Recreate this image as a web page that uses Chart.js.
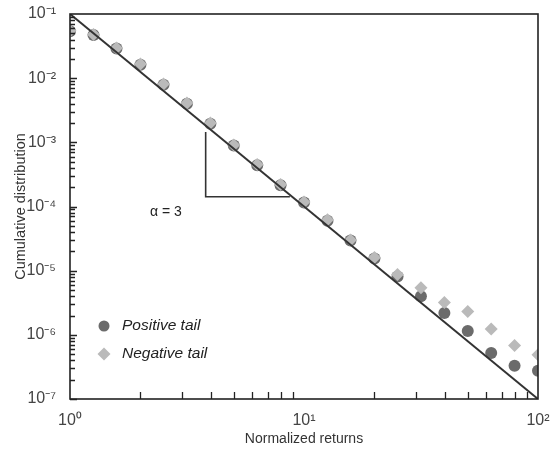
<!DOCTYPE html>
<html>
<head>
<meta charset="utf-8">
<script src="https://cdn.jsdelivr.net/npm/chart.js@4"></script>
<style>
  html, body { margin: 0; padding: 0; background: #fff; }
  #wrap { width: 550px; height: 455px; }
</style>
</head>
<body>
<div id="wrap"><canvas id="tails"></canvas></div>
<script>
// normalized returns (x): 10 points per decade
var returnsX = [1, 1.26, 1.58, 2.0, 2.51, 3.16, 3.98, 5.01, 6.31, 7.94, 10,
                12.6, 15.8, 20.0, 25.1, 31.6, 39.8, 50.1, 63.1, 79.4, 100];
// cumulative distribution, positive tail
var positiveTail = [0.054, 0.047, 0.029, 0.0162, 0.0079, 0.0040, 0.00195, 0.00089, 0.00044, 0.000214, 0.000115,
                    6.0e-5, 2.95e-5, 1.55e-5, 8.1e-6, 4.0e-6, 2.19e-6, 1.15e-6, 5.2e-7, 3.3e-7, 2.75e-7];
// cumulative distribution, negative tail
var negativeTail = [0.055, 0.048, 0.0295, 0.0166, 0.0081, 0.0041, 0.0020, 0.00091, 0.00045, 0.00022, 0.000118,
                    6.2e-5, 3.0e-5, 1.6e-5, 8.7e-6, 5.4e-6, 3.2e-6, 2.3e-6, 1.23e-6, 6.8e-7, 4.9e-7];
// power law fit (alpha = 3), end points
var fitX = [1, 100];
var fitY = [0.1, 1e-7];
// slope triangle
var slopeX = [3.8, 3.8, 8.7];
var slopeY = [1.45e-3, 1.42e-4, 1.42e-4];
var slopeLabel = 'α = 3';
var labelAt = [2.57, 8.3e-5];

var xTickLabels = ['10⁰', '10¹', '10²'];
var yTickLabels = ['10⁻⁷', '10⁻⁶', '10⁻⁵', '10⁻⁴', '10⁻³', '10⁻²', '10⁻¹'];
var seriesNames = ['Positive tail', 'Negative tail'];

var darkGray = '#6b6b6b';
var lightGray = '#bababa';
var fontFam = '"Liberation Sans", Arial, sans-serif';

function pts(xs, ys) {
    return xs.map(function (x, i) { return { x: x, y: ys[i] }; });
}

// ticks inside the box, frame, legend and slope label
var decorPlugin = {
    id: 'decor',
    afterDatasetsDraw: function (chart) {
        var ctx = chart.ctx, a = chart.chartArea;
        var xs = chart.scales.x, ys = chart.scales.y;
        ctx.save();
        ctx.strokeStyle = '#222';
        ctx.lineWidth = 1.6;
        ctx.strokeRect(a.left, a.top, a.right - a.left, a.bottom - a.top);

        ctx.lineWidth = 1.3;
        ctx.beginPath();
        // x ticks, pointing up from the bottom axis
        for (var d = 0; d < 2; d++) {
            for (var m = 2; m <= 9; m++) {
                var px = Math.round(xs.getPixelForValue(m * Math.pow(10, d))) + 0.5;
                ctx.moveTo(px, a.bottom);
                ctx.lineTo(px, a.bottom - 7);
            }
        }
        // y ticks, pointing right from the left axis
        for (var e = -7; e < -1; e++) {
            for (var n = 1; n <= 9; n++) {
                var py = Math.round(ys.getPixelForValue(n * Math.pow(10, e))) + 0.5;
                ctx.moveTo(a.left, py);
                ctx.lineTo(a.left + (n === 1 ? 7 : 5), py);
            }
        }
        ctx.stroke();

        // slope label
        ctx.fillStyle = '#222';
        ctx.font = '14px ' + fontFam;
        ctx.textAlign = 'center';
        ctx.textBaseline = 'middle';
        ctx.fillText(slopeLabel, xs.getPixelForValue(labelAt[0]), ys.getPixelForValue(labelAt[1]));

        // legend inside the plot
        var lx = 104, ly = [326, 354];
        ctx.textAlign = 'left';
        ctx.font = 'italic 15.5px ' + fontFam;
        ctx.fillStyle = darkGray;
        ctx.beginPath();
        ctx.arc(lx, ly[0], 5.5, 0, Math.PI * 2);
        ctx.fill();
        ctx.fillStyle = lightGray;
        ctx.beginPath();
        ctx.moveTo(lx, ly[1] - 6.5);
        ctx.lineTo(lx + 6.5, ly[1]);
        ctx.lineTo(lx, ly[1] + 6.5);
        ctx.lineTo(lx - 6.5, ly[1]);
        ctx.closePath();
        ctx.fill();
        ctx.fillStyle = '#222';
        ctx.fillText(seriesNames[0], lx + 18, ly[0]);
        ctx.fillText(seriesNames[1], lx + 18, ly[1]);
        ctx.restore();
    }
};

var ctx = document.getElementById('tails').getContext('2d');
var chart = new Chart(ctx, {
    type: 'scatter',
    data: {
        datasets: [{
            label: 'fit',
            data: pts(fitX, fitY),
            showLine: true,
            borderColor: '#333',
            borderWidth: 2,
            pointRadius: 0,
            order: 0
        }, {
            label: 'slope',
            data: pts(slopeX, slopeY),
            showLine: true,
            borderColor: '#333',
            borderWidth: 1.6,
            pointRadius: 0,
            order: 0
        }, {
            label: seriesNames[1],
            data: pts(returnsX, negativeTail),
            pointStyle: 'rectRot',
            pointRadius: 6.5,
            backgroundColor: lightGray,
            borderWidth: 0,
            order: 1
        }, {
            label: seriesNames[0],
            data: pts(returnsX, positiveTail),
            pointStyle: 'circle',
            pointRadius: 6,
            backgroundColor: darkGray,
            borderWidth: 0,
            order: 2
        }]
    },
    options: {
        responsive: true,
        maintainAspectRatio: false,
        animation: false,
        layout: { padding: { left: 0, right: 12, top: 14, bottom: 0 } },
        plugins: {
            legend: { display: false },
            tooltip: { enabled: false }
        },
        scales: {
            x: {
                type: 'logarithmic',
                min: 1,
                max: 100,
                grid: { display: false },
                border: { display: false },
                afterBuildTicks: function (s) {
                    s.ticks = [{ value: 1 }, { value: 10 }, { value: 100 }];
                },
                afterFit: function (s) {
                    s.height = 56;
                    s.paddingLeft = 0;
                    s.paddingRight = 0;
                },
                ticks: {
                    autoSkip: false,
                    maxRotation: 0,
                    padding: 4,
                    color: '#444',
                    font: { family: fontFam, size: 16 },
                    callback: function (v) {
                        return xTickLabels[Math.round(Math.log10(v))];
                    }
                },
                title: {
                    display: true,
                    text: 'Normalized returns',
                    color: '#333',
                    font: { family: fontFam, size: 14 },
                    padding: { top: 2, bottom: 7 }
                }
            },
            y: {
                type: 'logarithmic',
                min: 1e-7,
                max: 0.1,
                grid: { display: false },
                border: { display: false },
                afterBuildTicks: function (s) {
                    s.ticks = [1e-7, 1e-6, 1e-5, 1e-4, 1e-3, 1e-2, 1e-1].map(function (v) { return { value: v }; });
                },
                afterFit: function (s) {
                    s.width = 70;
                    s.paddingTop = 0;
                    s.paddingBottom = 0;
                },
                ticks: {
                    autoSkip: false,
                    padding: 6,
                    color: '#444',
                    font: { family: fontFam, size: 16 },
                    callback: function (v) {
                        return yTickLabels[Math.round(Math.log10(v)) + 7];
                    }
                },
                title: {
                    display: true,
                    text: 'Cumulative distribution',
                    color: '#333',
                    font: { family: fontFam, size: 14.5 },
                    padding: { top: 12, bottom: 4 }
                }
            }
        }
    },
    plugins: [decorPlugin]
});
</script>
</body>
</html>
